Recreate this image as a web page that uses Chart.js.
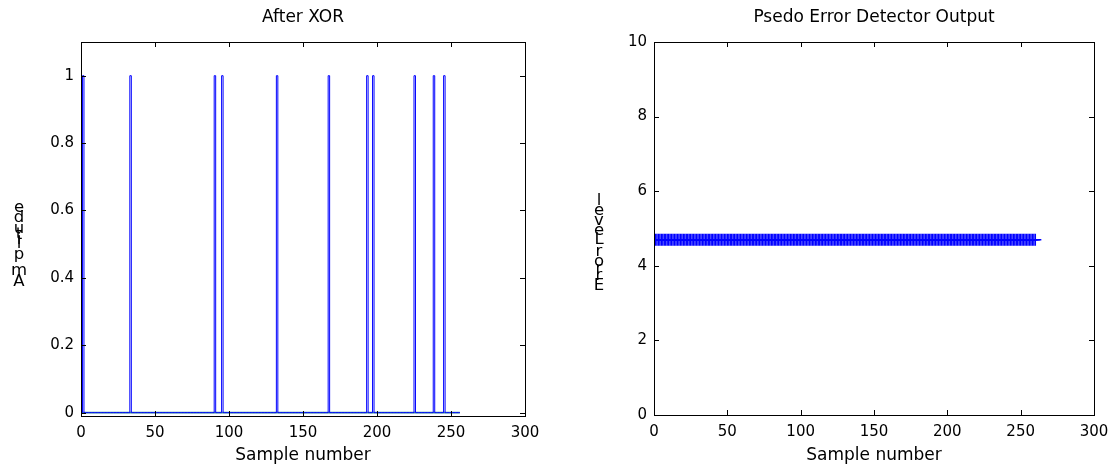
<!DOCTYPE html>
<html>
<head>
<meta charset="utf-8">
<title>After XOR / Psedo Error Detector Output</title>
<script src="https://cdn.jsdelivr.net/npm/chart.js@4.4.1/dist/chart.umd.min.js"></script>
<style>
    html, body { margin: 0; padding: 0; background: #fff; }
    #wrap { position: relative; width: 1119px; height: 468px; overflow: hidden; }
    canvas { position: absolute; top: 0; }
    #xorChart { left: 0; }
    #levelChart { left: 560px; }
</style>
</head>
<body>
<div id="wrap">
    <canvas id="xorChart" width="560" height="468"></canvas>
    <canvas id="levelChart" width="559" height="468"></canvas>
</div>
<script>
// ===== data =====
const xTicks = [0, 50, 100, 150, 200, 250, 300];

// left plot: XOR of sent and received bits, 1 where an error occurred
const xorSampleCount = 256;
const xorErrorSamples = [1, 33, 90, 95, 132, 167, 193, 197, 225, 238, 245];
const xorYTicks = [0, 0.2, 0.4, 0.6, 0.8, 1];

// right plot: detector output level per sample
const levelSampleCount = 260;
const levelValue = 4.7;
const levelYTicks = [0, 2, 4, 6, 8, 10];

const FONT = 'DejaVu Sans';
const BLUE = '#0000ff';

/**
 * MATLAB style decoration: box, inward ticks, title, labels
 */
const matlabAxes = {
    id: 'matlabAxes',
    afterDraw(chart, args, opts) {
        const { ctx, chartArea: a } = chart;
        const xs = chart.scales.x;
        const ys = chart.scales.y;
        ctx.save();
        ctx.strokeStyle = '#000';
        ctx.lineWidth = 1;
        ctx.strokeRect(Math.round(a.left) + 0.5, Math.round(a.top) + 0.5,
            Math.round(a.right - a.left), Math.round(a.bottom - a.top));

        ctx.beginPath();
        opts.xTicks.forEach(v => {
            const px = Math.round(xs.getPixelForValue(v)) + 0.5;
            ctx.moveTo(px, a.bottom); ctx.lineTo(px, a.bottom - 5);
            ctx.moveTo(px, a.top); ctx.lineTo(px, a.top + 5);
        });
        opts.yTicks.forEach(v => {
            const py = Math.round(ys.getPixelForValue(v)) + 0.5;
            ctx.moveTo(a.left, py); ctx.lineTo(a.left + 5, py);
            ctx.moveTo(a.right, py); ctx.lineTo(a.right - 5, py);
        });
        ctx.stroke();

        const cx = (a.left + a.right) / 2;
        ctx.fillStyle = '#000';
        ctx.font = `17px "${FONT}"`;
        ctx.textAlign = 'center';
        ctx.textBaseline = 'middle';
        ctx.fillText(opts.title, cx, 18);
        ctx.fillText(opts.xLabel, cx, 456);

        // y label: upright letters stacked bottom to top
        ctx.font = `16.5px "${FONT}"`;
        ctx.textBaseline = 'alphabetic';
        let y = opts.yLabelBottom;
        for (const ch of opts.yLabel) {
            ctx.fillText(ch, opts.yLabelX, y);
            y -= ctx.measureText(ch).width;
        }
        ctx.restore();
    }
};

function fixedTicks(values) {
    return scale => { scale.ticks = values.map(v => ({ value: v })); };
}

function axesOptions(cfg) {
    return {
        responsive: false,
        animation: false,
        devicePixelRatio: 1,
        layout: { padding: { top: 42, right: cfg.padRight, bottom: 0, left: 0 } },
        plugins: {
            legend: { display: false },
            tooltip: { enabled: false },
            matlabAxes: cfg.decor
        },
        scales: {
            x: {
                type: 'linear',
                min: 0,
                max: 300,
                afterBuildTicks: fixedTicks(xTicks),
                afterFit: s => { s.height = cfg.xHeight; },
                grid: { display: false, drawTicks: false },
                border: { display: false },
                ticks: {
                    autoSkip: false,
                    maxRotation: 0,
                    padding: 8,
                    color: '#000',
                    font: { family: FONT, size: 15 },
                    callback: v => String(v)
                }
            },
            y: {
                type: 'linear',
                min: cfg.yMin,
                max: cfg.yMax,
                afterBuildTicks: fixedTicks(cfg.yTicks),
                afterFit: s => { s.width = cfg.yWidth; },
                grid: { display: false, drawTicks: false },
                border: { display: false },
                ticks: {
                    padding: 7,
                    color: '#000',
                    font: { family: FONT, size: 15 },
                    callback: v => String(v)
                }
            }
        }
    };
}

// ===== left: After XOR =====
const xorPoints = [];
for (let n = 0; n <= xorSampleCount; n++) {
    xorPoints.push({ x: n, y: xorErrorSamples.includes(n) ? 1 : 0 });
}
const xorBaseline = [{ x: 0, y: 0 }, { x: xorSampleCount, y: 0 }];

new Chart(document.getElementById('xorChart'), {
    type: 'line',
    data: {
        datasets: [
            {
                data: xorPoints,
                borderColor: BLUE,
                borderWidth: 1,
                stepped: 'before',
                pointRadius: 0,
                fill: false
            },
            {
                data: xorBaseline,
                borderColor: '#3a9494',
                borderWidth: 1.6,
                pointRadius: 0,
                fill: false
            }
        ]
    },
    options: axesOptions({
        padRight: 35, xHeight: 52, yWidth: 81,
        yMin: -0.01, yMax: 1.1, yTicks: xorYTicks,
        decor: {
            title: 'After XOR', xLabel: 'Sample number', yLabel: 'Amplitude',
            yLabelX: 19, yLabelBottom: 286,
            xTicks, yTicks: xorYTicks
        }
    }),
    plugins: [matlabAxes]
});

// ===== right: Psedo Error Detector Output =====
const levelPoints = [];
for (let n = 1; n <= levelSampleCount; n++) {
    levelPoints.push({ x: n, y: levelValue });
}

new Chart(document.getElementById('levelChart'), {
    type: 'line',
    data: {
        datasets: [{
            data: levelPoints,
            showLine: false,
            pointStyle: 'cross',
            pointRadius: 6,
            pointBorderWidth: 1.4,
            pointBorderColor: BLUE,
            pointBackgroundColor: BLUE
        }]
    },
    options: axesOptions({
        padRight: 25, xHeight: 53, yWidth: 94,
        yMin: 0, yMax: 10, yTicks: levelYTicks,
        decor: {
            title: 'Psedo Error Detector Output', xLabel: 'Sample number', yLabel: 'Error Level',
            yLabelX: 39, yLabelBottom: 290,
            xTicks, yTicks: levelYTicks
        }
    }),
    plugins: [matlabAxes]
});
</script>
</body>
</html>
